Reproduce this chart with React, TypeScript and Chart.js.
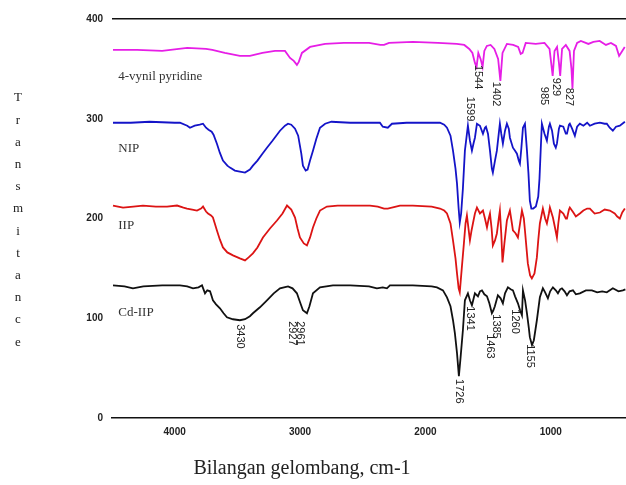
import { useEffect, useRef } from 'react';
import { Chart, registerables } from 'chart.js';

Chart.register(...registerables);

// ---------- data ----------
const SERIES_NAMES = ['4-vynil pyridine', 'NIP', 'IIP', 'Cd-IIP'];
const SERIES_COLORS = ['#e61ee6', '#1414c8', '#dc1414', '#111111'];
const NAME_T = [342, 270, 193, 106];
const NAME_WN = 4450;

const X_TICKS = [4000, 3000, 2000, 1000];
const Y_TICKS = [0, 100, 200, 300, 400];

const VINYL_WN = [4492, 4300, 4100, 3900, 3750, 3700, 3600, 3480, 3400, 3300, 3200, 3120, 3080, 3050, 3025, 3010, 2985, 2920, 2800, 2650, 2450, 2360, 2330, 2290, 2100, 1900, 1750, 1690, 1650, 1625, 1605, 1592, 1578, 1560, 1544, 1530, 1510, 1480, 1450, 1420, 1402, 1385, 1350, 1300, 1260, 1240, 1225, 1200, 1120, 1050, 1010, 995, 985, 970, 950, 935, 925, 910, 880, 850, 835, 827, 815, 790, 760, 700, 660, 610, 560, 520, 480, 455, 430, 410];
const VINYL_T = [369, 369, 368, 371, 370, 369, 366, 363, 363, 366, 368, 368, 361, 358, 354, 357, 366, 372, 375, 376, 376, 374, 374, 376, 377, 376, 375, 374, 370, 366, 356, 352, 366, 360, 352, 368, 373, 374, 370, 360, 338, 366, 375, 374, 372, 365, 366, 376, 375, 376, 370, 354, 343, 368, 372, 356, 343, 370, 374, 368, 350, 330, 368, 376, 378, 375, 377, 378, 374, 376, 373, 363, 368, 372];

const NIP_WN = [4492, 4350, 4200, 4000, 3958, 3900, 3878, 3840, 3800, 3774, 3750, 3730, 3705, 3690, 3663, 3640, 3615, 3580, 3559, 3520, 3480, 3439, 3400, 3376, 3340, 3300, 3264, 3220, 3160, 3120, 3096, 3070, 3040, 3015, 2990, 2977, 2955, 2940, 2921, 2897, 2870, 2841, 2800, 2750, 2600, 2450, 2363, 2340, 2300, 2267, 2150, 1950, 1884, 1850, 1828, 1800, 1780, 1760, 1748, 1735, 1726, 1715, 1701, 1685, 1661, 1645, 1629, 1615, 1605, 1589, 1565, 1541, 1525, 1517, 1501, 1485, 1470, 1462, 1445, 1430, 1415, 1406, 1395, 1382, 1365, 1350, 1335, 1326, 1302, 1285, 1270, 1255, 1246, 1235, 1222, 1206, 1190, 1178, 1167, 1155, 1140, 1119, 1100, 1090, 1080, 1071, 1050, 1031, 1015, 1007, 990, 975, 960, 951, 935, 927, 900, 880, 871, 855, 848, 830, 808, 790, 768, 740, 710, 688, 650, 608, 570, 553, 530, 505, 480, 449, 409];
const NIP_T = [296, 296, 297, 296, 296, 293, 291, 293, 294, 295, 291, 289, 287, 284, 275, 266, 258, 253, 251, 248, 247, 246, 249, 253, 258, 265, 271, 278, 288, 293, 295, 294, 290, 283, 265, 253, 248, 249, 258, 268, 280, 291, 295, 297, 296, 296, 296, 292, 291, 295, 296, 296, 296, 294, 291, 283, 268, 250, 235, 210, 196, 205, 230, 268, 293, 278, 268, 276, 281, 295, 293, 285, 291, 292, 285, 268, 250, 246, 258, 268, 285, 295, 285, 275, 288, 295, 290, 281, 271, 268, 265, 258, 255, 270, 291, 295, 268, 245, 218, 210, 210, 212, 222, 240, 270, 295, 285, 278, 292, 295, 288, 275, 271, 275, 290, 293, 292, 285, 285, 294, 295, 290, 283, 292, 295, 293, 296, 293, 295, 296, 295, 295, 291, 288, 292, 293, 297];

const IIP_WN = [4492, 4412, 4330, 4253, 4150, 4061, 3981, 3930, 3902, 3860, 3822, 3790, 3774, 3750, 3734, 3710, 3695, 3680, 3663, 3640, 3615, 3580, 3535, 3480, 3439, 3410, 3376, 3340, 3296, 3240, 3184, 3140, 3104, 3070, 3040, 3020, 3001, 2970, 2945, 2920, 2897, 2870, 2841, 2786, 2700, 2550, 2442, 2380, 2330, 2300, 2203, 2100, 1950, 1884, 1850, 1828, 1800, 1780, 1760, 1748, 1735, 1726, 1710, 1693, 1680, 1669, 1645, 1632, 1621, 1605, 1589, 1565, 1541, 1525, 1509, 1495, 1485, 1472, 1462, 1445, 1430, 1415, 1406, 1395, 1385, 1370, 1350, 1326, 1310, 1302, 1280, 1262, 1245, 1230, 1215, 1206, 1190, 1183, 1165, 1151, 1130, 1111, 1100, 1087, 1063, 1045, 1031, 1015, 1007, 983, 965, 951, 940, 927, 900, 880, 871, 855, 848, 820, 800, 768, 740, 710, 688, 650, 608, 570, 529, 490, 470, 449, 430, 409];
const IIP_T = [213, 211, 212, 213, 212, 212, 213, 211, 210, 209, 208, 210, 212, 207, 205, 203, 201, 195, 188, 179, 171, 166, 163, 160, 158, 161, 165, 171, 181, 190, 198, 205, 213, 209, 201, 190, 181, 175, 173, 181, 191, 200, 208, 212, 213, 213, 213, 212, 210, 210, 213, 213, 212, 210, 208, 205, 195, 178, 160, 145, 130, 126, 150, 175, 195, 203, 178, 188, 195, 205, 211, 205, 208, 200, 191, 200, 205, 190, 173, 178, 185, 200, 208, 185, 156, 175, 198, 208, 195, 188, 185, 181, 195, 208, 200, 188, 165, 155, 143, 140, 145, 161, 178, 195, 210, 200, 195, 205, 211, 201, 190, 181, 195, 208, 205, 200, 200, 209, 211, 206, 202, 205, 208, 210, 210, 205, 206, 209, 208, 205, 202, 200, 206, 210];

const CD_WN = [4492, 4400, 4333, 4250, 4100, 4037, 3958, 3900, 3854, 3810, 3782, 3770, 3758, 3740, 3718, 3705, 3695, 3670, 3639, 3610, 3583, 3535, 3480, 3439, 3400, 3376, 3320, 3264, 3210, 3160, 3096, 3060, 3025, 3000, 2977, 2945, 2925, 2897, 2841, 2738, 2600, 2450, 2387, 2340, 2307, 2283, 2100, 1950, 1908, 1860, 1828, 1800, 1780, 1765, 1748, 1733, 1720, 1701, 1685, 1661, 1645, 1629, 1615, 1605, 1581, 1565, 1549, 1530, 1509, 1490, 1470, 1458, 1446, 1422, 1400, 1382, 1365, 1342, 1320, 1302, 1285, 1262, 1245, 1230, 1222, 1205, 1190, 1175, 1167, 1150, 1135, 1111, 1087, 1063, 1045, 1023, 1005, 983, 960, 943, 925, 911, 890, 871, 850, 823, 800, 768, 720, 672, 630, 590, 553, 505, 460, 425, 405];
const CD_T = [133, 132, 130, 132, 133, 133, 133, 132, 130, 131, 133, 129, 125, 128, 127, 122, 118, 114, 110, 105, 101, 99, 98, 99, 102, 105, 111, 118, 125, 130, 132, 130, 125, 116, 108, 105, 112, 125, 131, 133, 133, 132, 130, 131, 130, 133, 133, 132, 131, 128, 121, 112, 98, 85, 65, 42, 60, 88, 118, 125, 118, 113, 120, 125, 122, 127, 128, 124, 122, 115, 105, 108, 112, 123, 120, 115, 125, 131, 129, 128, 122, 115, 108, 103, 128, 118, 105, 90, 81, 73, 78, 98, 121, 130, 126, 120, 127, 131, 128, 125, 129, 130, 127, 123, 127, 128, 124, 125, 128, 128, 126, 127, 126, 130, 127, 128, 129];

const PEAK_TEXT = ['1544', '1599', '1402', '985', '929', '827', '3430', '2927', '2961', '1726', '1341', '1463', '1385', '1260', '1155'];
const PEAK_WN = [1581, 1645, 1438, 1055, 959, 855, 3480, 3064, 3001, 1733, 1645, 1485, 1438, 1286, 1167];
const PEAK_T = [354, 322, 337, 332, 341, 331, 94, 97, 97, 39, 112, 84, 104, 109, 74];

const SERIES_WN = [VINYL_WN, NIP_WN, IIP_WN, CD_WN];
const SERIES_T = [VINYL_T, NIP_T, IIP_T, CD_T];

const Y_TITLE = 'Transmitance';
const X_TITLE = 'Bilangan gelombang, cm-1';

const SERIF = '"Liberation Serif", "Times New Roman", serif';
const SANS = '"Liberation Sans", Arial, sans-serif';

const textPlugin = {
  id: 'spectrumText',
  afterDraw(chart: any) {
    const { ctx } = chart;
    const x = chart.scales.x;
    const y = chart.scales.y;
    ctx.save();
    // series names
    ctx.font = `13px ${SERIF}`;
    ctx.fillStyle = '#333';
    ctx.textAlign = 'left';
    ctx.textBaseline = 'middle';
    SERIES_NAMES.forEach((n, i) => {
      ctx.fillText(n, x.getPixelForValue(NAME_WN), y.getPixelForValue(NAME_T[i]));
    });
    // peak labels (rotated)
    ctx.font = `11px ${SANS}`;
    ctx.fillStyle = '#222';
    PEAK_TEXT.forEach((t, i) => {
      ctx.save();
      ctx.translate(x.getPixelForValue(PEAK_WN[i]), y.getPixelForValue(PEAK_T[i]));
      ctx.rotate(Math.PI / 2);
      ctx.textAlign = 'left';
      ctx.textBaseline = 'middle';
      ctx.fillText(t, 0, 0);
      ctx.restore();
    });
    // vertical y title, one letter per line
    ctx.font = `13px ${SERIF}`;
    ctx.fillStyle = '#222';
    ctx.textAlign = 'center';
    Y_TITLE.split('').forEach((c, i) => {
      ctx.fillText(c, 18, 98 + i * 22.2);
    });
    // x title
    ctx.font = `20px ${SERIF}`;
    ctx.fillText(X_TITLE, 302, 469);
    ctx.restore();
  },
};

export default function App() {
  const ref = useRef<HTMLCanvasElement | null>(null);
  useEffect(() => {
    if (!ref.current) return;
    const chart = new Chart(ref.current, {
      type: 'line',
      data: {
        datasets: SERIES_NAMES.map((name, i) => ({
          label: name,
          data: SERIES_WN[i].map((w, j) => ({ x: w, y: SERIES_T[i][j] })),
          borderColor: SERIES_COLORS[i],
          backgroundColor: SERIES_COLORS[i],
          borderWidth: 1.8,
          pointRadius: 0,
          tension: 0,
          fill: false,
        })),
      },
      options: {
        animation: false,
        responsive: false,
        layout: { padding: { top: 19, right: 0, left: 0, bottom: 0 } },
        plugins: { legend: { display: false }, tooltip: { enabled: false } },
        scales: {
          x: {
            type: 'linear',
            reverse: true,
            min: 400,
            max: 4500,
            afterBuildTicks: (s: any) => {
              s.ticks = X_TICKS.map((v) => ({ value: v }));
            },
            ticks: {
              callback: (v: any) => String(v),
              padding: 8,
              maxRotation: 0,
              autoSkip: false,
              color: '#222',
              font: { size: 10, weight: 'bold', family: SANS },
            },
            grid: { display: true, color: 'transparent', drawTicks: false },
            border: { display: true, color: '#111', width: 1.5 },
            afterFit: (s: any) => {
              s.height = 67;
            },
          },
          y: {
            min: 0,
            max: 400,
            afterBuildTicks: (s: any) => {
              s.ticks = Y_TICKS.map((v) => ({ value: v }));
            },
            ticks: {
              callback: (v: any) => String(v),
              padding: 9,
              color: '#222',
              font: { size: 10, weight: 'bold', family: SANS },
            },
            grid: {
              drawTicks: false,
              color: (c: any) => (c.tick && c.tick.value === 400 ? '#111' : 'transparent'),
              lineWidth: 1.5,
            },
            border: { display: false },
            afterFit: (s: any) => {
              s.width = 112;
            },
          },
        },
      },
      plugins: [textPlugin],
    } as any);
    return () => chart.destroy();
  }, []);
  return (
    <div style={{ position: 'absolute', left: 0, top: 0, width: 626, height: 485, background: '#fff' }}>
      <canvas ref={ref} width={626} height={485} style={{ display: 'block' }} />
    </div>
  );
}
